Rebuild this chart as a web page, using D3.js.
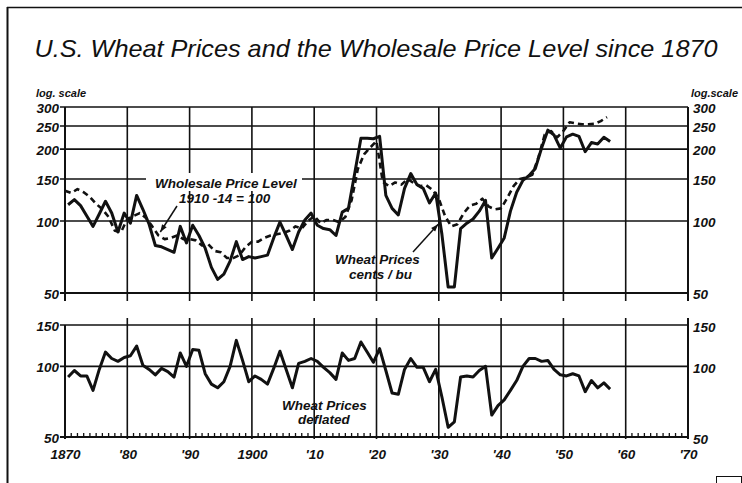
<!DOCTYPE html>
<html><head><meta charset="utf-8">
<script src="https://cdn.jsdelivr.net/npm/d3@7"></script>
<style>
html,body{margin:0;padding:0;background:#fff;}
svg{display:block;}
text{font-family:"Liberation Sans",Arial,sans-serif;font-style:italic;fill:#111;}
</style></head><body>
<svg id="c" width="742" height="483"></svg>
<script>
// ---------------- DATA ----------------
const years = d3.range(1870, 1958); // 1870 ... 1957
// Wholesale price level, 1910-14 = 100 (calendar years)
const wholesale = [
 134,131,136,132,126,118,112,104, 91, 90,
 102,105,108,103, 95, 87, 84, 85, 87, 84,
  84, 83, 79, 80, 75, 74, 70, 70, 72, 78,
  82, 82, 85, 87, 88, 89, 91, 95, 93,100,
 105, 98,101,101, 99,104,122,165,190,203,
 216,146,140,145,142,150,144,140,141,135,
 124,105, 95, 97,108,116,118,124,115,112,
 113,125,140,150,152,156,185,230,238,224,
 238,259,256,254,254,255,262,272];
// Wheat prices, cents per bushel (crop years)
const wheat = [
 117,123,116,105, 95,107,121,108, 90,108,
  98,128,112, 97, 79, 78, 76, 74, 95, 81,
  96, 87, 77, 64, 57, 60, 68, 82, 69, 71,
  70, 71, 72, 85, 99, 87, 76, 90,101,108,
  96, 93, 92, 87,109,113,158,222,222,221,
 226,128,113,106,137,158,142,137,119,131,
  88, 53, 53, 93, 98,102,110,122, 70, 77,
  85,110,132,148,155,166,202,240,229,202,
 225,231,226,195,213,210,224,215];
// Wheat prices deflated by the wholesale price level
const deflated = [
  90, 96, 91, 91, 79, 97,115,108,105,109,
 111,122,101, 97, 92, 98, 95, 90,114,100,
 118,117, 93, 84, 81, 86,100,129,106, 86,
  91, 88, 84, 98,116, 97, 81,103,105,108,
 105, 99, 94, 88,114,106,108,127,115,104,
 119, 96, 77, 76, 97,108, 99, 99, 86, 97,
  74, 55, 58, 90, 91, 90, 96,100, 62, 68,
  72, 79, 87,100,108,108,105,106, 97, 92,
  91, 93, 91, 78, 87, 81, 85, 80];
const topTicks = [50,100,150,200,250,300];
const botTicks = [50,100,150];
const decades = d3.range(1870, 1971, 10);
const decadeLabels = ["1870","'80","'90","1900","'10","'20","'30","'40","'50","'60","'70"];
const titleText = "U.S. Wheat Prices and the Wholesale Price Level since 1870";

// ---------------- CHART ----------------
const svg = d3.select("#c");
const L = 65, R = 688;
const x = d3.scaleLinear().domain([1870, 1970]).range([L, R]);
const yT = d3.scaleLog().domain([50, 300]).range([293, 107]);
const yB = d3.scaleLog().domain([50, 150]).range([437, 325]);
const cropX = y => x(y + 0.5);   // crop years plotted mid-year

// frame
svg.append("line").attr("x1",7.5).attr("x2",7.5).attr("y1",7).attr("y2",483).attr("stroke","#111").attr("stroke-width",2);
svg.append("line").attr("x1",7).attr("x2",742).attr("y1",7.5).attr("y2",7.5).attr("stroke","#111").attr("stroke-width",1.5);

// title
svg.append("text").attr("x",376).attr("y",57).attr("text-anchor","middle")
  .attr("font-size",24).attr("textLength",683).attr("lengthAdjust","spacingAndGlyphs").text(titleText);

svg.append("text").attr("x",36).attr("y",97).attr("font-size",11).attr("font-weight","bold").text("log. scale");
svg.append("text").attr("x",738).attr("y",97).attr("font-size",11).attr("font-weight","bold").attr("text-anchor","end").text("log.scale");

const grid = svg.append("g").attr("stroke","#111").attr("fill","none");
// top panel horizontal grid
grid.selectAll(".ht").data(topTicks).join("line")
  .attr("x1",L-5).attr("x2",R).attr("y1",d=>yT(d)).attr("y2",d=>yT(d))
  .attr("stroke-width",d=>d===50?2:1.6);
// top panel verticals
grid.selectAll(".vt").data(decades).join("line")
  .attr("x1",d=>x(d)).attr("x2",d=>x(d)).attr("y1",yT(300)).attr("y2",yT(50)+8)
  .attr("stroke-width",d=>(d===1870||d===1970)?2:1.6);
// bottom panel horizontal grid
grid.selectAll(".hb").data(botTicks).join("line")
  .attr("x1",L-5).attr("x2",R).attr("y1",d=>yB(d)).attr("y2",d=>yB(d))
  .attr("stroke-width",d=>d===50?2:1.6);
// bottom panel verticals
grid.selectAll(".vb").data(decades).join("line")
  .attr("x1",d=>x(d)).attr("x2",d=>x(d)).attr("y1",d=>(d===1870)?yB(150):yB(150)-7).attr("y2",yB(50)+2)
  .attr("stroke-width",d=>(d===1870||d===1970)?2:1.6);
// yearly minor ticks
grid.selectAll(".mt").data(d3.range(1871,1970).filter(d=>d%10!==0)).join("line")
  .attr("x1",d=>x(d)).attr("x2",d=>x(d)).attr("y1",yB(50)).attr("y2",yB(50)-4).attr("stroke-width",1.3);

// axes labels
function styleAxis(g){ g.select(".domain").remove(); g.selectAll("line").remove();
  g.selectAll("text").attr("font-size",13.5).attr("font-weight","bold")
   .style("font-family",'"Liberation Sans",Arial,sans-serif').style("font-style","italic").attr("fill","#111"); }
svg.append("g").attr("transform",`translate(${L-5},1)`).call(d3.axisLeft(yT).tickValues(topTicks).tickFormat(d3.format("d")).tickSize(0).tickPadding(1)).call(styleAxis);
svg.append("g").attr("transform",`translate(${R+4},1)`).call(d3.axisRight(yT).tickValues(topTicks).tickFormat(d3.format("d")).tickSize(0).tickPadding(1)).call(styleAxis);
svg.append("g").attr("transform",`translate(${L-5},1)`).call(d3.axisLeft(yB).tickValues(botTicks).tickFormat(d3.format("d")).tickSize(0).tickPadding(1)).call(styleAxis);
svg.append("g").attr("transform",`translate(${R+4},2)`).call(d3.axisRight(yB).tickValues(botTicks).tickFormat(d3.format("d")).tickSize(0).tickPadding(1)).call(styleAxis);
svg.append("g").attr("transform",`translate(0,${yB(50)+9})`).call(d3.axisBottom(x).tickValues(decades).tickFormat((d,i)=>decadeLabels[i]).tickSize(0).tickPadding(3)).call(styleAxis);

// label background (gap in gridline)
const ann = svg.append("g");
ann.append("rect").attr("x",146).attr("y",173).attr("width",156).attr("height",18).attr("fill","#fff");

// lines
const lineW = d3.line().x((d,i)=>x(years[i])).y(d=>yT(d));
const lineWh = d3.line().x((d,i)=>cropX(years[i])).y(d=>yT(d));
const lineD = d3.line().x((d,i)=>cropX(years[i])).y(d=>yB(d));
svg.append("path").datum(wholesale).attr("d",lineW).attr("fill","none").attr("stroke","#111")
  .attr("stroke-width",2.6).attr("stroke-dasharray","6,4").attr("stroke-linejoin","round");
svg.append("path").datum(wheat).attr("d",lineWh).attr("fill","none").attr("stroke","#111")
  .attr("stroke-width",3).attr("stroke-linejoin","round");
svg.append("path").datum(deflated).attr("d",lineD).attr("fill","none").attr("stroke","#111")
  .attr("stroke-width",3).attr("stroke-linejoin","round");

// annotations
const at = (t,xx,yy)=>ann.append("text").attr("x",xx).attr("y",yy).attr("font-size",13.5).attr("font-weight","bold").text(t);
at("Wholesale Price Level",155,188);
at("1910 -14 = 100",179,203);
at("Wheat Prices",335,264);
at("cents / bu",349,279);
at("Wheat Prices",282,410);
at("deflated",298,424);

function arrow(x1,y1,x2,y2){
  ann.append("line").attr("x1",x1).attr("y1",y1).attr("x2",x2).attr("y2",y2).attr("stroke","#111").attr("stroke-width",1.5);
  const a=Math.atan2(y2-y1,x2-x1), s=8, w=0.35;
  const p=[[x2,y2],[x2-s*Math.cos(a-w),y2-s*Math.sin(a-w)],[x2-s*Math.cos(a+w),y2-s*Math.sin(a+w)]];
  ann.append("path").attr("d","M"+p.join("L")+"Z").attr("fill","#111");
}
arrow(177,206,x(1885.3),yT(90));
arrow(413,252,x(1929.9),yT(97));

// corner stamp
svg.append("rect").attr("x",716.5).attr("y",476.5).attr("width",25).attr("height",8).attr("fill","none").attr("stroke","#111").attr("stroke-width",1);
</script></body></html>
